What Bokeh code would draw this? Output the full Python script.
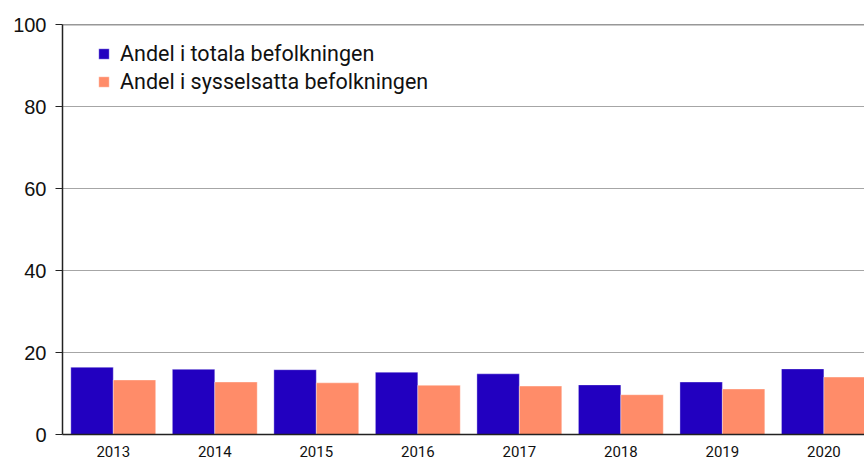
from bokeh.plotting import figure
from bokeh.models import Range1d, Legend, LegendItem, FixedTicker, Span, ColumnDataSource
from bokeh.embed import file_html
from bokeh.resources import INLINE

years = ["2013", "2014", "2015", "2016", "2017", "2018", "2019", "2020"]
andel_totala = [16.4, 15.9, 15.8, 15.2, 14.8, 12.1, 12.8, 16.0]
andel_sysselsatta = [13.3, 12.8, 12.6, 12.0, 11.8, 9.7, 11.1, 14.0]
series_names = ["Andel i totala befolkningen", "Andel i sysselsatta befolkningen"]
y_ticks = [0, 20, 40, 60, 80, 100]

BLUE = "#2200C0"
ORANGE = "#FF8C69"

centers = [i + 0.5 for i in range(len(years))]
bw = 0.418
src = ColumnDataSource(dict(
    x1=[c - bw / 2 for c in centers],
    x2=[c + bw / 2 for c in centers],
    tot=andel_totala,
    sys=andel_sysselsatta,
))

p = figure(width=864, height=459, output_backend="svg", toolbar_location=None,
           x_range=Range1d(0, 7.9), y_range=Range1d(0, 100),
           min_border_left=62, min_border_right=0, min_border_top=24, min_border_bottom=20)

r1 = p.vbar(x="x1", top="tot", width=bw, source=src, fill_color=BLUE,
            line_color="white", line_alpha=0.35, line_width=1)
r2 = p.vbar(x="x2", top="sys", width=bw, source=src, fill_color=ORANGE,
            line_color="white", line_alpha=0.35, line_width=1)

p.outline_line_color = None
p.background_fill_color = "white"
p.border_fill_color = "white"

# grid
p.xgrid.grid_line_color = None
p.ygrid.grid_line_color = "#a6a6a6"
p.ygrid.grid_line_width = 1
p.add_layout(Span(location=100, dimension="width", line_color="#333333", line_width=1.5))

# y axis
p.yaxis.ticker = FixedTicker(ticks=y_ticks)
p.yaxis.axis_line_color = "#222222"
p.yaxis.axis_line_width = 1.5
p.yaxis.major_tick_line_color = "#222222"
p.yaxis.major_tick_out = 7
p.yaxis.major_tick_in = 0
p.yaxis.minor_tick_line_color = None
p.yaxis.major_label_text_font = "Liberation Sans"
p.yaxis.major_label_text_font_size = "20px"
p.yaxis.major_label_text_color = "#111111"
p.yaxis.major_label_standoff = 9

# x axis
p.xaxis.ticker = FixedTicker(ticks=centers)
p.xaxis.major_label_overrides = {c: y for c, y in zip(centers, years)}
p.xaxis.axis_line_color = "#222222"
p.xaxis.axis_line_width = 1.5
p.xaxis.major_tick_line_color = None
p.xaxis.minor_tick_line_color = None
p.xaxis.major_label_text_font = "Roboto"
p.xaxis.major_label_text_font_size = "15px"
p.xaxis.major_label_text_color = "#111111"
p.xaxis.major_label_standoff = 5

legend = Legend(items=[LegendItem(label=series_names[0], renderers=[r1]),
                       LegendItem(label=series_names[1], renderers=[r2])],
                location=(35, 340))
legend.border_line_color = None
legend.background_fill_alpha = 0
legend.label_text_font = "Roboto"
legend.label_text_font_size = "21.5px"
legend.label_text_color = "#111111"
legend.glyph_width = 13
legend.glyph_height = 13
legend.label_standoff = 10
legend.spacing = 3
legend.margin = 0
legend.padding = 0
legend.label_height = 21
p.add_layout(legend)

open("out.html", "w").write(file_html(p, INLINE))
